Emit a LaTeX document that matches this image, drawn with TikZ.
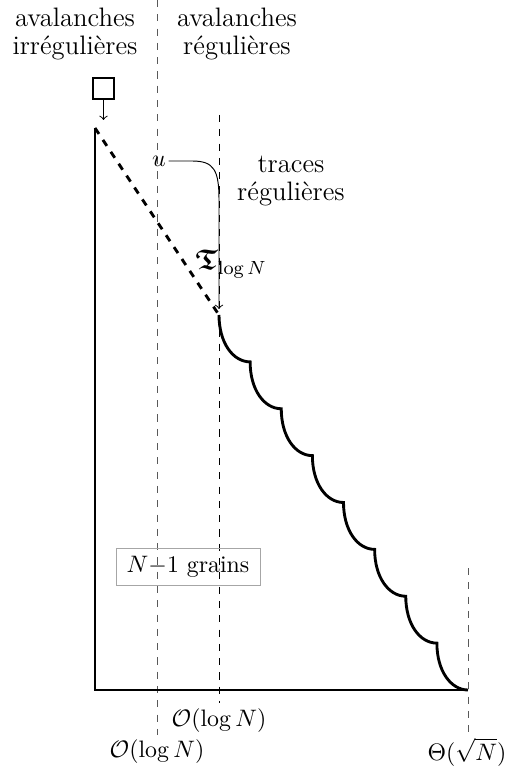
\documentclass[tikz,border=0pt]{standalone}
\usepackage{amssymb}
\usepackage{amsmath}
\usetikzlibrary{arrows.meta, positioning, calc}

\begin{document}
\begin{tikzpicture}[x=0.01476cm, y=-0.01476cm, >=to,
    zone/.style={dashed, black!65, thin},
    pile/.style={line width=1.2pt},
    zonelabel/.style={align=center, font=\fontsize{11.2}{11.8}\selectfont}]

            \useasboundingbox (0,0) rectangle (506,773);

            % Zones
            \draw[zone] (157,0) -- (157,735);
            \draw[dashed, thin] (219,115) -- (219,703);
            \draw[zone] (468,568) -- (468,735);

            % Zone labels
            \node[zonelabel] (irreg) at (75,34) {avalanches\\irrégulières};
            \node[zonelabel] (reg) at (237,34) {avalanches\\régulières};
            \node[zonelabel] (traces) at (291,181) {traces\\régulières};

            % Pile of grains
            \coordinate (top) at (95,128);
            \coordinate (origin) at (95,690);
            \coordinate (far) at (468,690);
            \coordinate (start) at (219,315);
            \draw[pile, line join=miter] (top) -- (origin) -- (far);
            \draw[pile, dashed] (top) -- (start);
            \draw[pile] (start) foreach \i in {1,...,8} {
                .. controls +(0,28) and +(-17,0) .. (219+31.125*\i, 315+46.875*\i)};

            % Falling grain
            \node[draw, line width=1.2pt, minimum size=8.8pt, inner sep=0pt] (grain) at (103.5,88.5) {};
            \coordinate (drop) at (103.5,120);
            \draw[->] (grain) -- (drop);

            % Trace
            \node[inner sep=1pt] (u) at (159,161) {$u$};
            \coordinate (tip) at (219,309);
            \draw[->] (u.east) -- (192,161) .. controls (214,161) and (219,170) .. (219,200) -- (tip);
            \node[font=\large, inner sep=1pt] (tau) at (231,264) {$\boldsymbol{\mathfrak{T}}_{\log N}$};

            % Box
            \node[draw, black!35, text=black, inner xsep=4.5pt, inner ysep=3.5pt] (grains) at (188,567) {$N{-}1$ grains};

            % Axis labels
            \node (olog2) at (219,721) {$\mathcal{O}(\log N)$};
            \node (olog1) at (157,752) {$\mathcal{O}(\log N)$};
            \node (theta) at (467,752) {$\Theta(\sqrt{N})$};

        \end{tikzpicture}
\end{document}
